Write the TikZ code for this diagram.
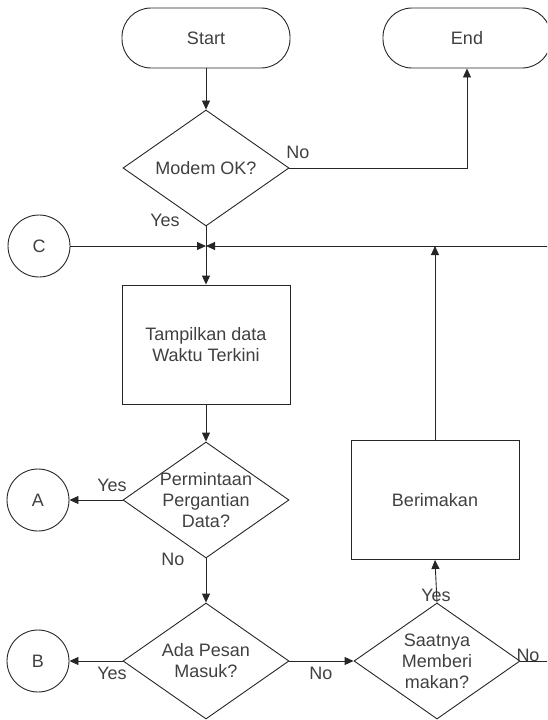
\documentclass[tikz,border=0pt]{standalone}
\usepackage{fontspec}
\setmainfont{Liberation Sans}
\usetikzlibrary{shapes.geometric,arrows.meta}
\begin{document}
\begin{tikzpicture}[
        x=1pt,
        y=-1pt,
        font=\fontsize{18}{21}\selectfont,
        every node/.style={text=black!75},
        line/.style={draw=black!85, line width=0.9pt},
        arrow/.style={line, -{Triangle[length=9pt,width=8pt]}},
        terminal/.style={line, rectangle, rounded corners=29pt, minimum width=168pt, minimum height=60pt},
        process/.style={line, rectangle, minimum width=168pt, minimum height=119pt, align=center},
        decision/.style={line, diamond, minimum width=166pt, minimum height=116pt, inner sep=0pt},
        connector/.style={line, circle, minimum size=62pt, inner sep=0pt},
        txt/.style={align=center, inner sep=0pt}]

%Rahmen
\useasboundingbox (0,0) rectangle (547,720);
\clip (0,0) rectangle (547,720);
%Symbole
\node[terminal] (start) at (206,38) {Start};
\node[terminal] (end) at (467,38) {End};
\node[decision] (modem) at (206,168) {};
\node[txt] (modemtext) at (modem) {Modem OK?};
\node[connector] (c) at (39,246) {C};
\coordinate (join) at (206,246);
\coordinate (rightin) at (560,246);
\node[process] (tampil) at (206,344.5) {Tampilkan data\\Waktu Terkini};
\node[decision] (minta) at (206,500) {};
\node[txt] (mintatext) at (minta) {Permintaan\\Pergantian\\Data?};
\node[connector] (a) at (38,500) {A};
\node[decision] (pesan) at (206,661) {};
\node[txt] (pesantext) at (pesan) {Ada Pesan\\Masuk?};
\node[connector] (b) at (38,661) {B};
\node[decision] (saat) at (437,661) {};
\node[txt] (saattext) at (saat) {Saatnya\\Memberi\\makan?};
\coordinate (rightout) at (560,661);
\node[process] (makan) at (435,500) {Berimakan};
%Verbindungen
\draw[arrow] (start) -- (modem);
\draw[arrow] (modem.east) -| (end.south);
\draw[line] (modem.south) -- (join);
\draw[arrow] (c) -- (join);
\draw[arrow] (rightin) -- (join);
\draw[arrow] (join) -- (tampil.north);
\draw[arrow] (tampil) -- (minta);
\draw[arrow] (minta) -- (a);
\draw[arrow] (minta) -- (pesan);
\draw[arrow] (pesan) -- (b);
\draw[arrow] (pesan) -- (saat);
\draw[arrow] (saat.north) -- (makan.south);
\draw[arrow] (makan.north) -- (makan.north |- join);
\draw[line] (saat.east) -- (rightout);
%Beschriftung
\node[txt] (modemno) at (298,152) {No};
\node[txt] (modemyes) at (165,220) {Yes};
\node[txt] (mintayes) at (112,485) {Yes};
\node[txt] (mintano) at (173,559) {No};
\node[txt] (pesanyes) at (112,673) {Yes};
\node[txt] (pesanno) at (321,673) {No};
\node[txt] (saatyes) at (436,595) {Yes};
\node[txt] (saatno) at (528,655) {No};

\end{tikzpicture}
\end{document}
